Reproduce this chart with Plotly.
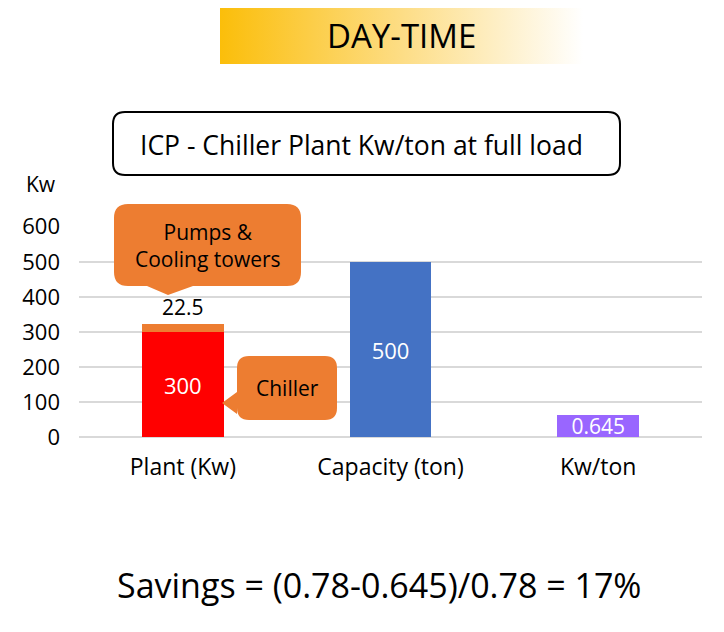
import plotly.graph_objects as go

# chart data
categories = ['Plant (Kw)', 'Capacity (ton)', 'Kw/ton']
chiller_kw = [300, None, None]
pumps_kw = [22.5, None, None]
capacity_ton = [None, 500, None]
kw_per_ton = [None, None, 0.645]
kw_per_ton_scale = 100  # the ratio bar is drawn x100 so it shows on the Kw axis
y_ticks = [0, 100, 200, 300, 400, 500, 600]

FONT = 'Open Sans'
W, H = 724, 632
OFF = 8  # page body margin, the figure starts 8px in


def rounded_box(x0, y0, x1, y1, r, bottom_tip=None, left_tip=None):
    # pixel coords, y going down; tips are (start, tip_x, tip_y, end)
    p = f'M {x0+r},{y0} L {x1-r},{y0} Q {x1},{y0} {x1},{y0+r} '
    p += f'L {x1},{y1-r} Q {x1},{y1} {x1-r},{y1} '
    if bottom_tip:
        a, tx, ty, b = bottom_tip
        p += f'L {b},{y1} L {tx},{ty} L {a},{y1} '
    p += f'L {x0+r},{y1} Q {x0},{y1} {x0},{y1-r} '
    if left_tip:
        a, tx, ty, b = left_tip
        p += f'L {x0},{b} L {tx},{ty} L {x0},{a} '
    p += f'L {x0},{y0+r} Q {x0},{y0} {x0+r},{y0} Z'
    return p


def xdom(px):
    return (px - OFF) / W


def ydom(py):
    return 1 - (py - OFF) / H


fig = go.Figure()

fig.add_trace(go.Bar(x=categories, y=chiller_kw, marker_color='#FF0000',
                     marker_line_width=0,
                     text=[f'{v}' if v else '' for v in chiller_kw],
                     textposition='inside', insidetextanchor='middle',
                     textfont=dict(color='white', size=22, family=FONT)))
fig.add_trace(go.Bar(x=categories, y=pumps_kw, marker_color='#ED7D31',
                     marker_line_width=0,
                     text=[f'{v}' if v else '' for v in pumps_kw],
                     textposition='outside', cliponaxis=False,
                     textfont=dict(color='black', size=21, family=FONT)))
fig.add_trace(go.Bar(x=categories, y=capacity_ton, marker_color='#4472C4',
                     marker_line_width=0,
                     text=[f'{v}' if v else '' for v in capacity_ton],
                     textposition='inside', insidetextanchor='middle',
                     textfont=dict(color='white', size=22, family=FONT)))
fig.add_trace(go.Bar(x=categories,
                     y=[v * kw_per_ton_scale if v else None for v in kw_per_ton],
                     marker_color='#9966FF', marker_line_width=0,
                     text=[f'{v}' if v else '' for v in kw_per_ton],
                     textposition='inside', insidetextanchor='middle',
                     constraintext='none',
                     textfont=dict(color='white', size=21, family=FONT)))

# gradient banner on a full-page pixel overlay
fig.add_trace(go.Scatter(x=[220, 583, 583, 220, 220], y=[5, 5, 64, 64, 5],
                         xaxis='x2', yaxis='y2', mode='lines', fill='toself',
                         line=dict(width=0),
                         fillgradient=dict(type='horizontal',
                                           colorscale=[[0, '#FBBE0A'], [0.5, '#FDDD85'], [1, '#FFFFFF']]),
                         hoverinfo='skip'))

shapes = [
    dict(type='path', xref='x2', yref='y2', path=rounded_box(113, 112, 620, 175, 12),
         line=dict(color='black', width=2), fillcolor='white', layer='below'),
    dict(type='path', xref='x2', yref='y2',
         path=rounded_box(114, 204, 301, 286, 14, bottom_tip=(147, 168, 295, 193)),
         line=dict(width=0), fillcolor='#ED7D31'),
    dict(type='path', xref='x2', yref='y2',
         path=rounded_box(237, 356, 337, 420, 12, left_tip=(392, 222, 403, 414)),
         line=dict(width=0), fillcolor='#ED7D31'),
]

notes = [
    ('DAY-TIME', 401, 35, 33),
    ('ICP - Chiller Plant Kw/ton at full load', 361, 145, 26.5),
    ('Kw', 41, 184, 21),
    ('Pumps &<br>Cooling towers', 208, 245, 21),
    ('Chiller', 287, 388, 21),
    ('Savings = (0.78-0.645)/0.78 = 17%', 379, 585, 34),
]
annotations = [dict(text=t, x=x, y=y, xref='x2', yref='y2', showarrow=False,
                    font=dict(family=FONT, size=s, color='black'))
               for t, x, y, s in notes]

fig.update_layout(
    width=W, height=H, autosize=False,
    margin=dict(l=0, r=0, t=0, b=0, autoexpand=False),
    paper_bgcolor='white', plot_bgcolor='rgba(0,0,0,0)',
    barmode='stack', bargap=0.606, showlegend=False,
    font=dict(family=FONT, color='black'),
    xaxis=dict(domain=[xdom(79), xdom(702)], showgrid=False, showline=False, automargin=False,
               tickfont=dict(size=23, color='black'), ticklabelstandoff=14),
    yaxis=dict(domain=[ydom(437.3), ydom(226.7)], range=[0, 600], automargin=False,
               tickvals=y_ticks, gridcolor='#D9D9D9', gridwidth=2,
               zeroline=True, zerolinecolor='#D9D9D9', zerolinewidth=2,
               tickfont=dict(size=22, color='black'), ticklabelstandoff=18),
    xaxis2=dict(domain=[0, 1], range=[OFF, W + OFF], visible=False, anchor='y2',
                fixedrange=True, automargin=False),
    yaxis2=dict(domain=[0, 1], range=[H + OFF, OFF], visible=False, anchor='x2',
                fixedrange=True, automargin=False),
    shapes=shapes,
    annotations=annotations,
)

fig.write_html('out.html')
